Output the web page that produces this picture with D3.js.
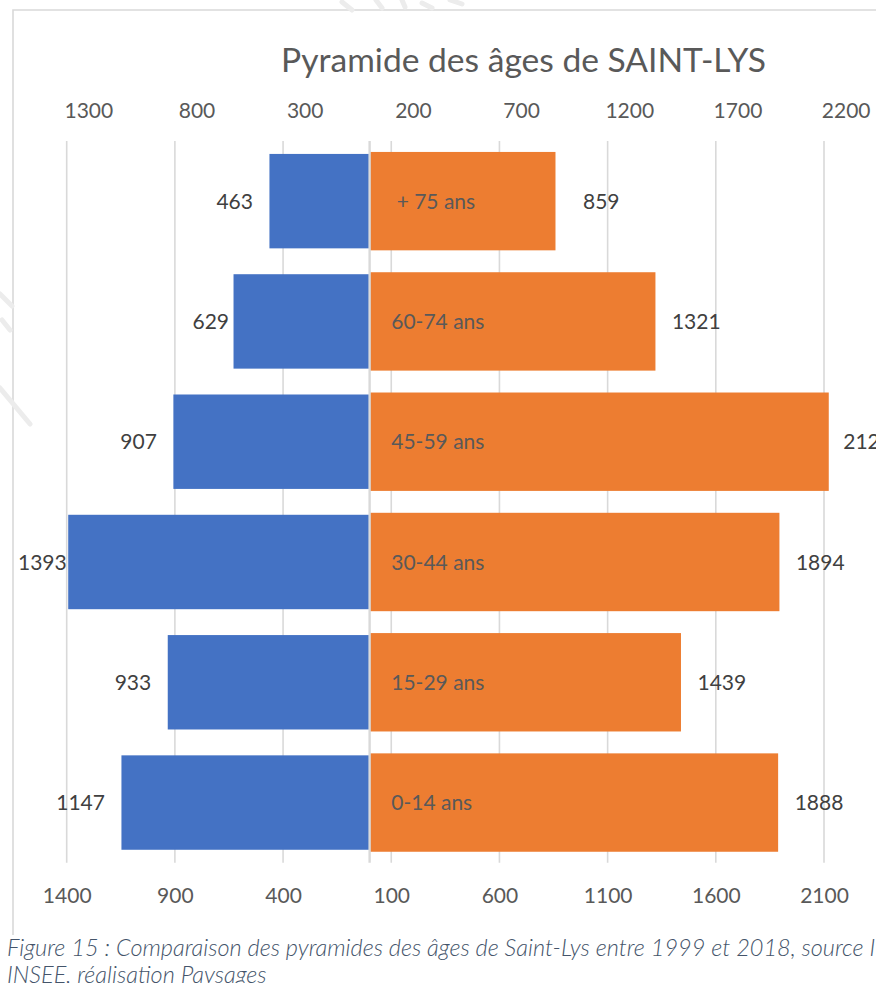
<!DOCTYPE html>
<html>
<head>
<meta charset="utf-8">
<script src="https://cdn.jsdelivr.net/npm/d3@7/dist/d3.min.js"></script>
<style>
  html, body { margin: 0; padding: 0; background: #fff; overflow: hidden; }
  svg { display: block; }
  text { font-family: Lato, "Open Sans", sans-serif; }
</style>
</head>
<body>
<svg id="chart" width="876" height="983"></svg>
<script>
// Age groups, bottom to top
const categories = ["0-14 ans", "15-29 ans", "30-44 ans", "45-59 ans", "60-74 ans", "+ 75 ans"];
// Population per age group
const pop1999 = [1147, 933, 1393, 907, 629, 463];
const pop2018 = [1888, 1439, 1894, 2122, 1321, 859];
// Axis ticks (signed: left side negative)
const bottomTicks = [-1400, -900, -400, 100, 600, 1100, 1600, 2100];
const topTicks = [-1300, -800, -300, 200, 700, 1200, 1700, 2200];
// Hand-placed offsets of a few value labels (px)
const nudge1999 = [0, 0, 15, 0, 12, 0];
const nudge2018 = [0, 0, 0, -2, 0, 11];

const title = "Pyramide des âges de SAINT-LYS";
const caption1 = "Figure 15 : Comparaison des pyramides des âges de Saint-Lys entre 1999 et 2018, source I";
const caption2 = "INSEE, réalisation Paysages";

const BLUE = "#4472C4", ORANGE = "#ED7D31", GRID = "#d9d9d9";
const AXIS_TXT = "#595959", LABEL_TXT = "#404040";

const svg = d3.select("#chart");

const plot = { top: 141, bottom: 862.7 };
const x = d3.scaleLinear().domain([-1400, 2100]).range([66.7, 824]);
const y = d3.scaleBand()
  .domain(categories.slice().reverse())
  .range([plot.top, plot.bottom]);
const x0 = x(0);

// outer frame (top and left edges)
svg.append("path")
  .attr("d", `M13,935 V10 H876`)
  .attr("fill", "none").attr("stroke", GRID).attr("stroke-width", 1.6);

// faint mark at the upper edge and left side
const mark = svg.append("g").attr("fill", "none").attr("stroke", "#ececec")
  .attr("stroke-width", 5).attr("stroke-linecap", "round");
mark.append("path").attr("d", "M342,2 L352,10 M376,0 L382,8 M402,0 L405,7 M422,3 L432,8 M450,0 L462,4");
mark.append("path").attr("d", "M0,388 L30,424");
mark.append("path").attr("d", "M0,294 L12,306 M2,320 L10,330");

// vertical gridlines
svg.append("g").selectAll("line").data(bottomTicks).join("line")
  .attr("x1", d => x(d)).attr("x2", d => x(d))
  .attr("y1", plot.top).attr("y2", plot.bottom)
  .attr("stroke", GRID).attr("stroke-width", 1.6);

const rows = categories.map((c, i) => ({ c, a: pop1999[i], b: pop2018[i], na: nudge1999[i], nb: nudge2018[i] }));

// 1999 bars (left)
const bandA = 0.215, bandB = 0.182;
svg.append("g").selectAll("rect").data(rows).join("rect")
  .attr("x", d => x(-d.a))
  .attr("width", d => x0 - x(-d.a))
  .attr("y", d => y(d.c) + y.bandwidth() * bandA / 2)
  .attr("height", y.bandwidth() * (1 - bandA))
  .attr("fill", BLUE);

// 2018 bars (right)
svg.append("g").selectAll("rect").data(rows).join("rect")
  .attr("x", x0)
  .attr("width", d => x(d.b) - x0)
  .attr("y", d => y(d.c) + y.bandwidth() * bandB / 2)
  .attr("height", y.bandwidth() * (1 - bandB))
  .attr("fill", ORANGE);

// centre axis line
svg.append("line")
  .attr("x1", x0).attr("x2", x0)
  .attr("y1", plot.top).attr("y2", plot.bottom)
  .attr("stroke", GRID).attr("stroke-width", 2.4);

const mid = d => y(d.c) + y.bandwidth() / 2;
const FS = 21;

// category labels inside the 2018 bars
svg.append("g").selectAll("text").data(rows).join("text")
  .attr("x", x(100))
  .attr("y", mid).attr("dy", "0.36em")
  .attr("font-size", FS).attr("fill", AXIS_TXT)
  .attr("xml:space", "preserve")
  .style("white-space", "pre")
  .text(d => d.c.startsWith("+") ? " " + d.c : d.c);

// value labels 1999
svg.append("g").selectAll("text").data(rows).join("text")
  .attr("x", d => x(-d.a) - 16.5 + d.na)
  .attr("y", mid).attr("dy", "0.36em")
  .attr("text-anchor", "end")
  .attr("font-size", FS).attr("fill", LABEL_TXT)
  .text(d => d.a);

// value labels 2018
svg.append("g").selectAll("text").data(rows).join("text")
  .attr("x", d => x(d.b) + 16.5 + d.nb)
  .attr("y", mid).attr("dy", "0.36em")
  .attr("font-size", FS).attr("fill", LABEL_TXT)
  .text(d => d.b);

// bottom axis
const fmt = d => String(Math.abs(d));
const bottomAxis = d3.axisBottom(x).tickValues(bottomTicks).tickFormat(fmt).tickSize(0).tickPadding(0);
const gb = svg.append("g").attr("transform", "translate(0,895)").call(bottomAxis);
gb.select(".domain").remove();
gb.selectAll("text").attr("dy", "0.36em").attr("y", 0)
  .attr("font-size", FS).attr("fill", AXIS_TXT).attr("font-family", "Lato, sans-serif");

// top axis
const topAxis = d3.axisTop(x).tickValues(topTicks).tickFormat(fmt).tickSize(0).tickPadding(0);
const gt = svg.append("g").attr("transform", "translate(0,110)").call(topAxis);
gt.select(".domain").remove();
gt.selectAll("text").attr("dy", "0.36em").attr("y", 0)
  .attr("font-size", FS).attr("fill", AXIS_TXT).attr("font-family", "Lato, sans-serif");

// title
svg.append("text")
  .attr("x", 523.5).attr("y", 72)
  .attr("text-anchor", "middle")
  .attr("font-size", 33.6).attr("fill", AXIS_TXT)
  .text(title);

// figure caption
const cap = svg.append("g").attr("font-style", "italic").attr("font-weight", 300)
  .attr("fill", "#44546A").attr("font-size", 23.5);
cap.append("text").attr("x", 7).attr("y", 956).text(caption1);
cap.append("text").attr("x", 7).attr("y", 983).text(caption2);
</script>
</body>
</html>
